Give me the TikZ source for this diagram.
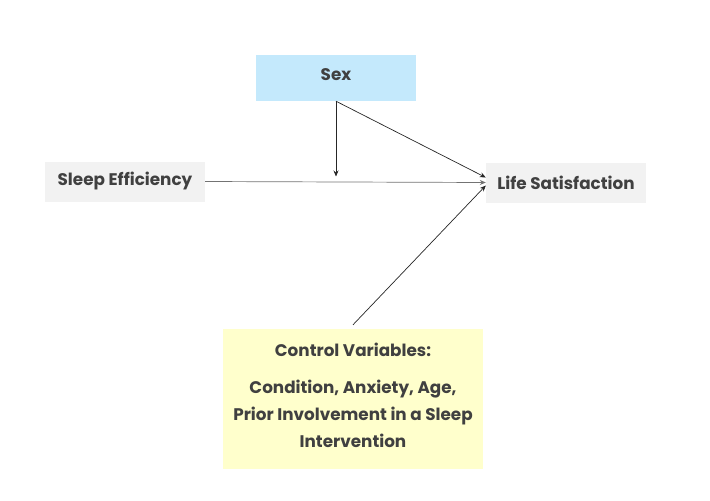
\documentclass[tikz,border=0pt]{standalone}
\usepackage{fontspec}
\setmainfont{Poppins}
\usetikzlibrary{arrows.meta, positioning}
\definecolor{sexblue}{HTML}{C4E9FC}
\definecolor{boxgray}{HTML}{F2F2F2}
\definecolor{ctrlyellow}{HTML}{FFFFCC}
\definecolor{textgray}{HTML}{404040}

\begin{document}
\begin{tikzpicture}[x=1pt, y=-1pt,
  var/.style={fill=boxgray, text=textgray, font=\bfseries\fontsize{16.8}{20}\selectfont,
    minimum width=160pt, minimum height=40pt, inner sep=0pt},
  link/.style={-{Stealth[length=6pt,width=5pt]}, line width=0.7pt, black!85}]
  \useasboundingbox (0,0) rectangle (710,501);
  \node[var, fill=sexblue, minimum height=46pt, text depth=7pt] (sex) at (336,78) {Sex};
  \node[var] (eff) at (125,181.5) {Sleep Efficiency};
  \node[var] (life) at (566,182.5) {Life Satisfaction};
  \node[var, fill=ctrlyellow, minimum width=260pt, minimum height=140pt, align=center,
    font=\bfseries\fontsize{16.8}{27}\selectfont, text depth=7pt] (ctrl) at (353,399)
    {Control Variables:\\[10pt] Condition, Anxiety, Age,\\ Prior Involvement in a Sleep\\ Intervention};
  % moderation
  \coordinate (mod) at ([yshift=5pt]sex.south |- eff.east);
  \draw[link] (sex.south) -- (mod);
  \draw[link] (sex.south) -- ([yshift=5pt]life.west);
  \draw[link, black!55] (eff.east) -- (life.west);
  \draw[link] ([yshift=4pt]ctrl.north) -- ([yshift=-3pt]life.west);
\end{tikzpicture}
\end{document}
